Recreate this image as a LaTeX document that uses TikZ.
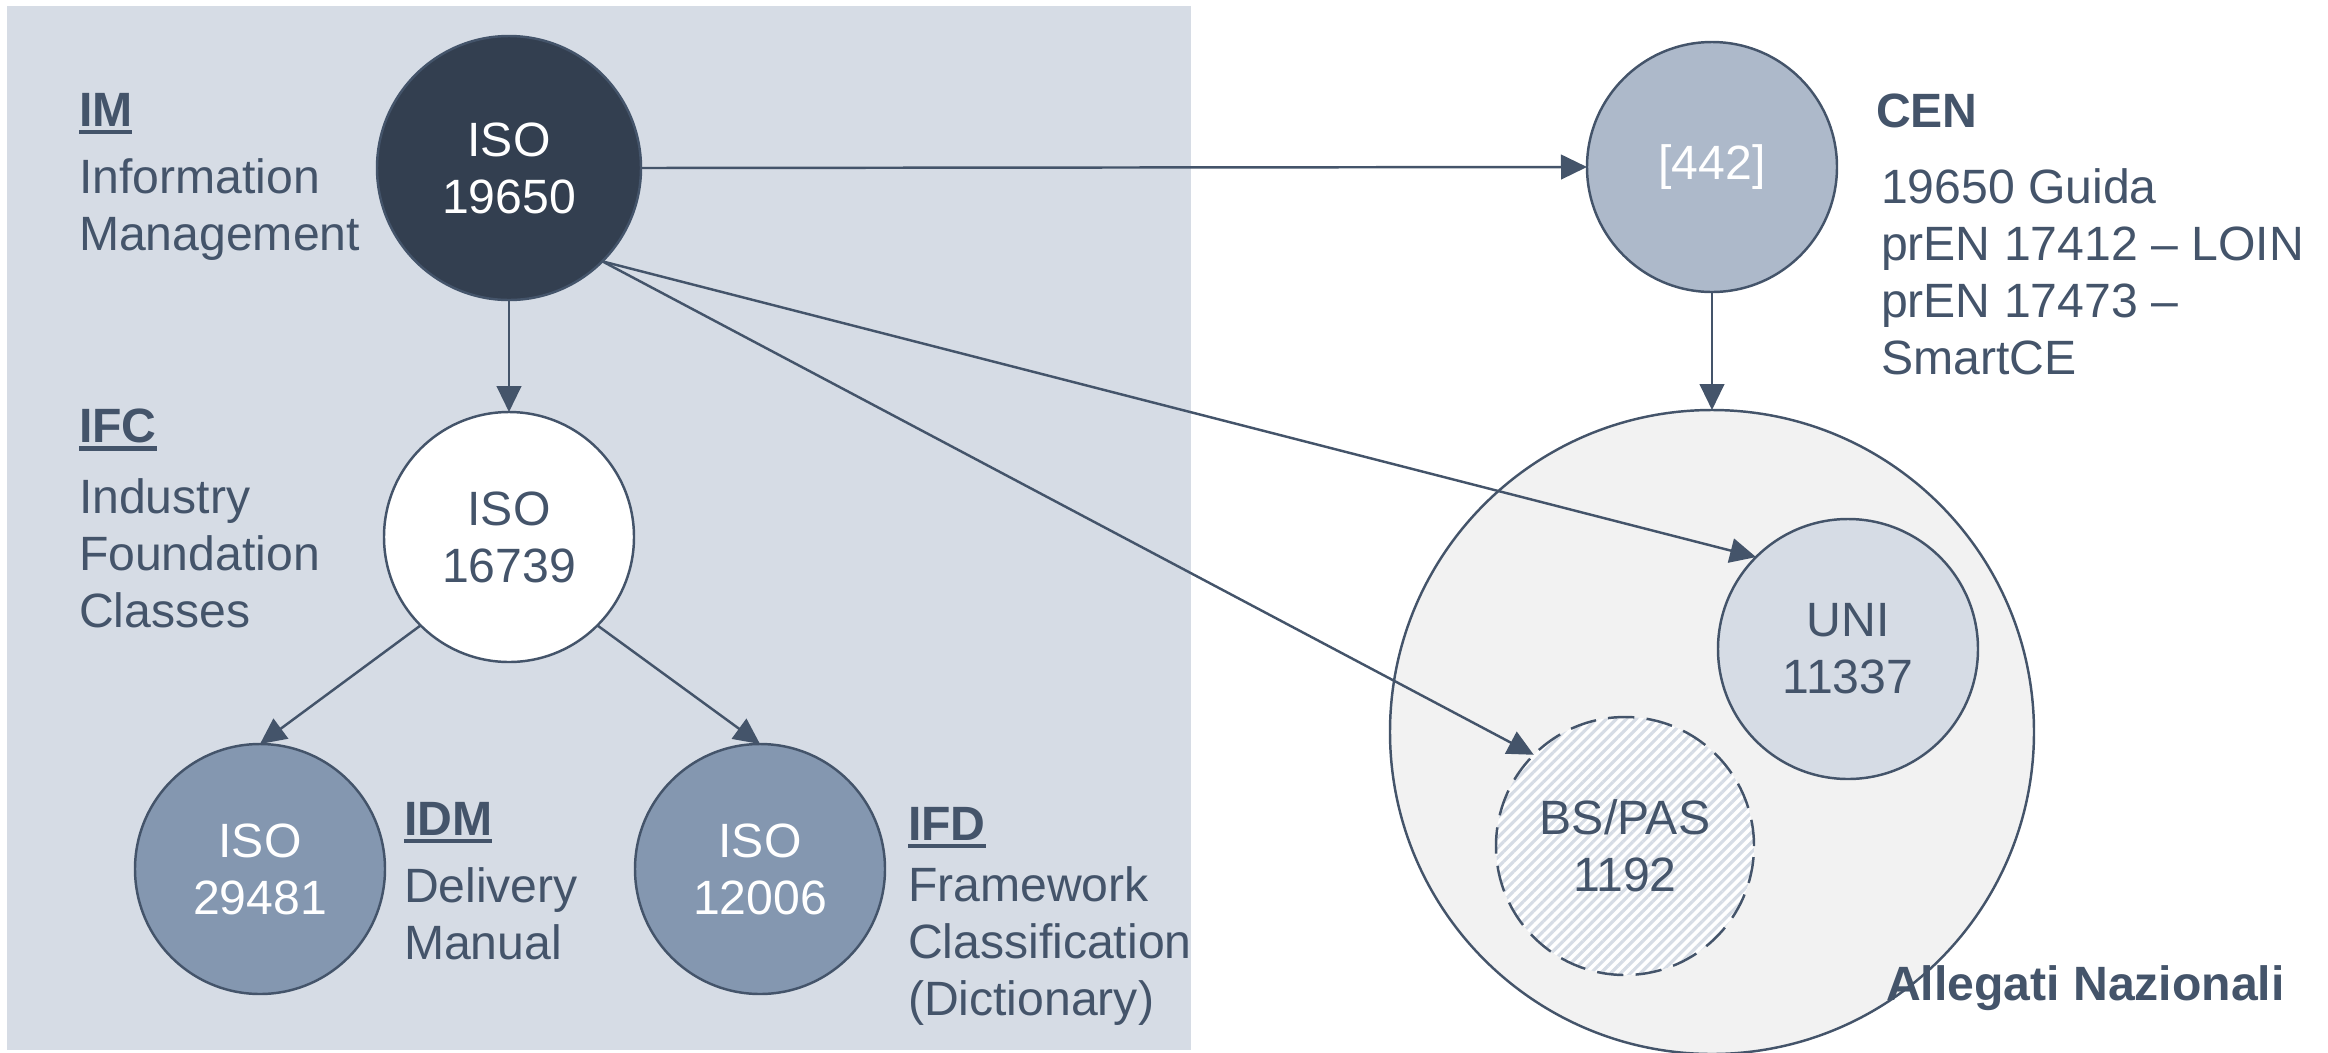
\documentclass[tikz,border=0pt]{standalone}
\usepackage{fontspec}
\setmainfont{Liberation Sans}
\usetikzlibrary{positioning}
\usetikzlibrary{arrows.meta,patterns.meta,shapes.geometric}
\definecolor{txtblue}{HTML}{44546A}
\definecolor{darknode}{HTML}{333F50}
\definecolor{midnode}{HTML}{8497B0}
\definecolor{lightnode}{HTML}{ADB9CA}
\definecolor{panelbg}{HTML}{D6DCE5}
\definecolor{outerbg}{HTML}{F2F2F2}
\tikzset{
    % standard arrow tip
    >={Triangle[length=7.4pt,width=7pt]},
    % connector style
    pil/.style={
           ->,
           color=txtblue,
           line width=0.7pt,}
}
\newcommand{\ulhead}[1]{\vtop{\hbox{\textbf{#1}}\kern1pt\hrule height 1.4pt}}

\begin{document}
\begin{tikzpicture}[font=\fontsize{13.7pt}{16.2pt}\selectfont, outer sep=0pt]
\tikzstyle{isobox}=[circle, draw=txtblue, line width=0.7pt, minimum size=2.5cm,
    inner sep=0pt, align=center]
\tikzstyle{labelbox}=[anchor=base west, inner sep=0pt, align=left, text=txtblue]
%
\useasboundingbox (0,0) rectangle (23.28,-10.53);
\fill[panelbg] (0.07,-0.06) rectangle (11.91,-10.50);

\node[isobox, fill=darknode, text=white, minimum size=2.64cm] (iso19650) at (5.09,-1.68) {ISO\\19650};
\node[isobox, fill=white, text=txtblue] (iso16739) at (5.09,-5.37) {ISO\\16739};
\node[isobox, fill=midnode, text=white] (iso29481) at (2.60,-8.69) {ISO\\29481};
\node[isobox, fill=midnode, text=white] (iso12006) at (7.60,-8.69) {ISO\\12006};

\node[isobox, fill=lightnode, text=white] (cen442) at (17.12,-1.67) {[442]};
\node[isobox, fill=outerbg, minimum size=6.44cm] (allegati) at (17.12,-7.32) {};
\node[isobox, fill=panelbg, text=txtblue, minimum size=2.6cm] (uni) at (18.48,-6.49) {UNI\\11337};
\node[isobox, preaction={fill=white}, pattern={Lines[angle=45,distance=2pt,line width=0.9pt]},
    pattern color=panelbg, dash pattern=on 7.5pt off 3.5pt, text=txtblue,
    minimum size=2.58cm] (bspas) at (16.25,-8.46) {BS/PAS\\1192};

\path[pil] (iso19650.south) edge (iso16739.north);
\path[pil] (iso16739.225) edge (iso29481.north);
\path[pil] (iso16739.-45) edge (iso12006.north);
\path[pil] (iso19650.east) edge (cen442.west);
\path[pil] (iso19650.-45) edge (uni.135);
\path[pil] (iso19650.-45) edge (bspas.135);
\path[pil] (cen442.south) edge (allegati.north);

% multi-line labels sit on the baseline of their last line
\node[labelbox] (imhead) at (0.79,-1.26) {\ulhead{IM}};
\node[labelbox] (imtext) at (0.79,-2.50) {Information\\Management};
\node[labelbox] (ifchead) at (0.79,-4.42) {\ulhead{IFC}};
\node[labelbox] (ifctext) at (0.79,-6.27) {Industry\\Foundation\\Classes};
\node[labelbox] (idmhead) at (4.04,-8.35) {\ulhead{IDM}};
\node[labelbox] (idmtext) at (4.04,-9.59) {Delivery\\Manual};
\node[labelbox] (ifdhead) at (9.08,-8.40) {\ulhead{IFD}};
\node[labelbox] (ifdtext) at (9.08,-10.15) {Framework\\Classification\\(Dictionary)};
\node[labelbox] (cenhead) at (18.76,-1.27) {\textbf{CEN}};
\node[labelbox] (centext) at (18.81,-3.74) {19650 Guida\\prEN 17412 – LOIN\\prEN 17473 –\\SmartCE};
\node[labelbox] (natlabel) at (18.86,-10.00) {\textbf{Allegati Nazionali}};

\end{tikzpicture}
\end{document}
